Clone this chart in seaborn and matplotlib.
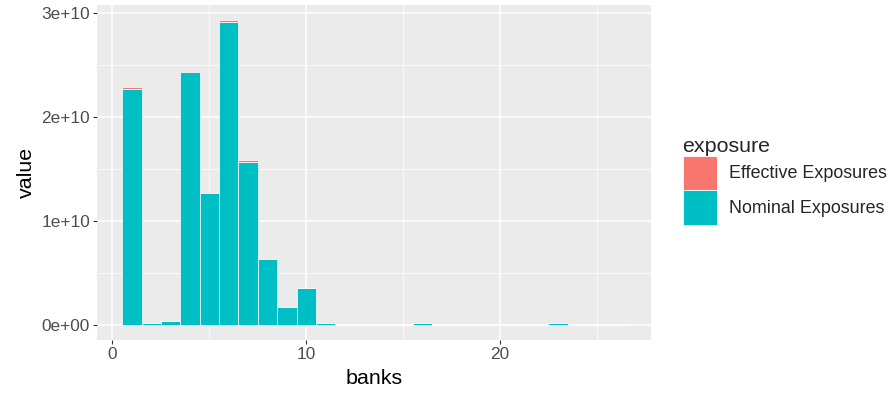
import numpy as np
import pandas as pd
import matplotlib
matplotlib.use("Agg")
import matplotlib.pyplot as plt
import matplotlib.patches as mpatches
from matplotlib.ticker import MultipleLocator, FuncFormatter
import seaborn as sns

# Data (banks 1..26)
banks = list(range(1, 27))
nominal = [2.27e10, 1.5e8, 3.3e8, 2.43e10, 1.265e10, 2.915e10, 1.57e10, 6.35e9, 1.72e9, 3.5e9,
           1.4e8, 0, 0, 0, 0, 1.8e8, 0, 0, 0, 0, 0, 0, 1.8e8, 0, 0, 0]
effective = [1.8e8, 5e6, 1e7, 1.8e8, 1.2e8, 2e8, 1.6e8, 8e7, 2e7, 6e7,
             5e6, 0, 0, 0, 0, 5e6, 0, 0, 0, 0, 0, 0, 5e6, 0, 0, 0]
levels = ["Effective Exposures", "Nominal Exposures"]
colors = {"Effective Exposures": "#F8766D", "Nominal Exposures": "#00BFC4"}

df = pd.DataFrame({
    "banks": banks * 2,
    "value": effective + nominal,
    "exposure": [levels[0]] * len(banks) + [levels[1]] * len(banks),
})

sns.set_theme(style="darkgrid")
plt.rcParams["font.family"] = ["Liberation Sans", "DejaVu Sans"]

fig = plt.figure(figsize=(8.95, 4.0), dpi=100)
ax = fig.add_axes([97 / 895, 60 / 400, 554 / 895, 335 / 400])
ax.set_facecolor("#EBEBEB")

sns.histplot(data=df, x="banks", weights="value", hue="exposure", hue_order=levels,
             multiple="stack", discrete=True, shrink=1, palette=colors,
             edgecolor="white", linewidth=0.5, alpha=1, ax=ax, legend=False)

ax.set_xlim(-0.8, 27.8)
ax.set_ylim(-0.147e10, 3.08e10)
ax.xaxis.set_major_locator(MultipleLocator(10))
ax.xaxis.set_minor_locator(MultipleLocator(5))
ax.yaxis.set_major_locator(MultipleLocator(1e10))
ax.yaxis.set_minor_locator(MultipleLocator(0.5e10))
ax.yaxis.set_major_formatter(FuncFormatter(lambda v, p: "0e+00" if v == 0 else f"{v/1e10:.0f}e+10"))
ax.grid(which="major", color="white", linewidth=1.1)
ax.grid(which="minor", color="white", linewidth=0.55)
ax.set_axisbelow(True)
for s in ax.spines.values():
    s.set_visible(False)
ax.tick_params(axis="both", which="major", length=3, width=0.8, color="#333333",
               labelsize=12.4, labelcolor="#4D4D4D", pad=2, left=True, bottom=True)
ax.tick_params(which="minor", length=0)
ax.set_xlabel("banks", fontsize=15.4, color="black", labelpad=5)
ax.set_ylabel("value", fontsize=15.4, color="black", labelpad=4)

handles = [mpatches.Patch(facecolor=colors[l], edgecolor="white", linewidth=0.6, label=l) for l in levels]
leg = fig.legend(handles=handles, title="exposure", loc="upper left",
                 bbox_to_anchor=(670 / 895, 1 - 124 / 400), frameon=False,
                 fontsize=12.9, title_fontsize=15.4, handlelength=1.9, handleheight=2.6,
                 labelspacing=0.0, handletextpad=0.7, borderpad=0.2)
leg._legend_box.align = "left"

fig.savefig("out.png", dpi=100, facecolor="white")
